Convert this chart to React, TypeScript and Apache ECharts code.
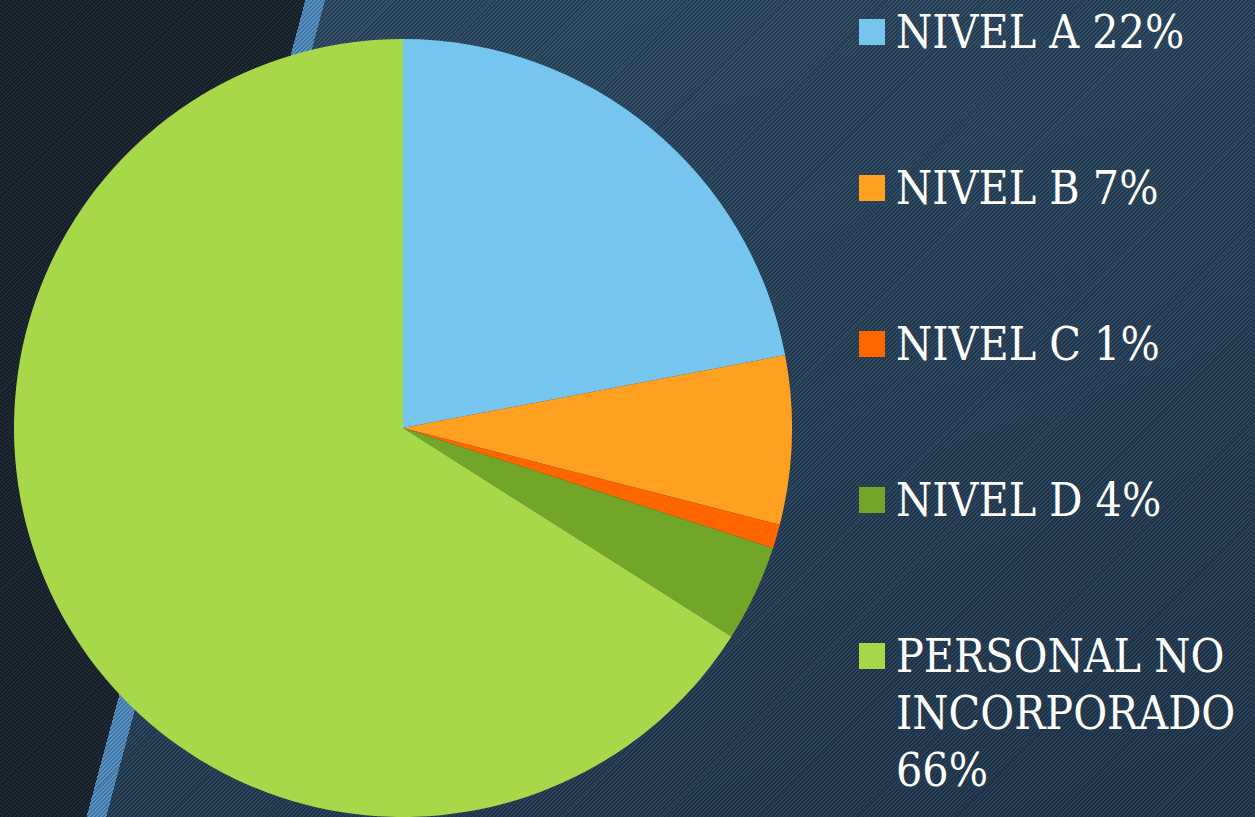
import React, { useEffect, useRef } from "react";
import * as echarts from "echarts";

const categories = ["NIVEL A", "NIVEL B", "NIVEL C", "NIVEL D", "PERSONAL NO INCORPORADO"];
const values = [22, 7, 1, 4, 66];
const colors = ["#75c5ee", "#ffa020", "#ff6600", "#72a628", "#a6d84a"];
const lastLabelLines = ["PERSONAL NO", "INCORPORADO"];

const FONT = "'DejaVu Serif Condensed', 'DejaVu Serif', serif";

export default function App() {
  const ref = useRef<HTMLDivElement>(null);
  useEffect(() => {
    document.body.style.margin = "0";
    const chart = echarts.init(ref.current!, undefined, { renderer: "svg" });
    const fmt = (name: string) => {
      const i = categories.indexOf(name);
      if (i === categories.length - 1) return `\n\n${lastLabelLines.join("\n")}\n${values[i]}%`;
      return `${name} ${values[i]}%`;
    };
    const textStyle = { color: "#ffffff", fontSize: 46, lineHeight: 57, fontFamily: FONT, padding: [0, 0, 0, 6] };
    const baseLegend = {
      orient: "vertical",
      left: 859,
      padding: 0,
      itemWidth: 26,
      itemHeight: 26,
      icon: "rect",
      selectedMode: false,
      formatter: fmt,
      textStyle,
    };
    chart.setOption({
      animation: false,
      color: colors,
      legend: [
        {
          ...baseLegend,
          top: 3.5,
          itemGap: 99,
          data: categories.slice(0, 4),
        },
        {
          ...baseLegend,
          top: 513.5,
          data: categories.slice(4),
        },
      ],
      series: [
        {
          type: "pie",
          center: [403, 428],
          radius: 389,
          startAngle: 90,
          clockwise: true,
          silent: true,
          label: { show: false },
          labelLine: { show: false },
          itemStyle: { borderWidth: 0 },
          emphasis: { disabled: true },
          data: categories.map((c, i) => ({ name: c, value: values[i] })),
        },
      ],
    });
    return () => chart.dispose();
  }, []);
  return (
    <div
      ref={ref}
      style={{
        position: "fixed",
        left: 0,
        top: 0,
        width: 1255,
        height: 817,
        backgroundImage: [
          "repeating-linear-gradient(135deg, rgba(0,0,0,0.22) 0px, rgba(0,0,0,0.22) 1.4px, rgba(255,255,255,0.03) 1.4px, rgba(255,255,255,0.03) 2.8px)",
          "linear-gradient(105deg, #19252f 0px, #19252f 295px, #5392c8 295px, #5392c8 314px, rgba(0,0,0,0) 314px)",
          "linear-gradient(160deg, #31506b 0%, #2a4660 45%, #223a52 100%)",
        ].join(","),
      }}
    />
  );
}
